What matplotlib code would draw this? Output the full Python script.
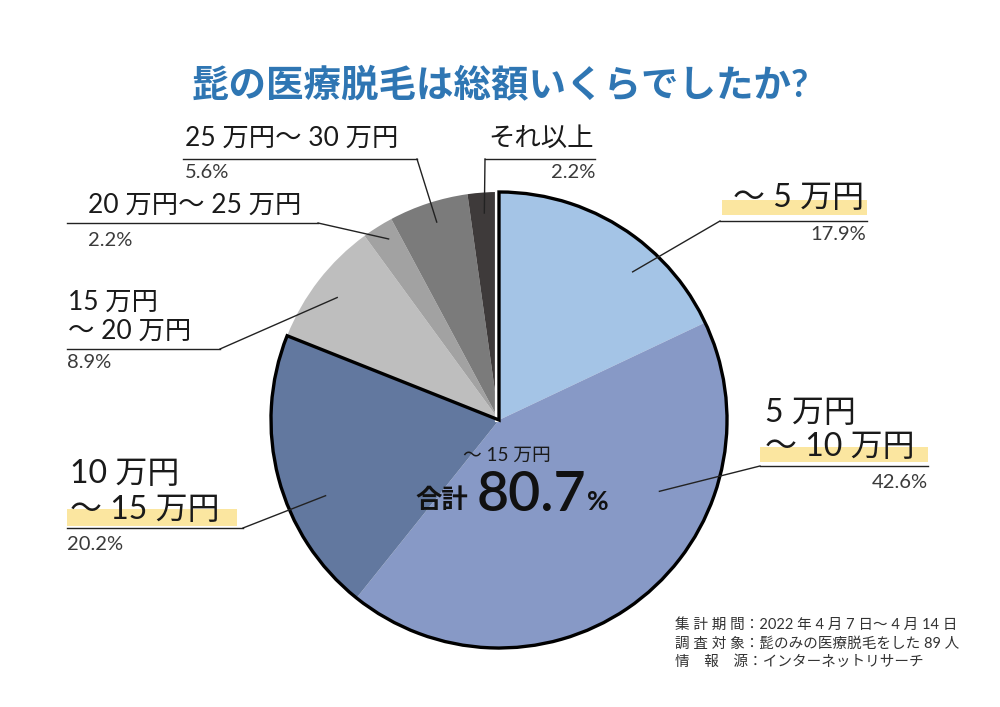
import numpy as np
import matplotlib.pyplot as plt
from matplotlib.patches import Wedge, Rectangle

plt.rcParams['font.family'] = ['Lato', 'Noto Sans CJK JP', 'DejaVu Sans']

W, H = 1000, 707

# data (share of respondents, %)
categories = ['～5万円', '5万円～10万円', '10万円～15万円', '15万円～20万円',
              '20万円～25万円', '25万円～30万円', 'それ以上']
shares = [17.9, 42.6, 20.2, 8.9, 2.2, 5.6, 2.2]
pct_labels = ['17.9%', '42.6%', '20.2%', '8.9%', '2.2%', '5.6%', '2.2%']
label_lines = [['～ 5 万円'], ['5 万円', '～ 10 万円'], ['10 万円', '～ 15 万円'],
               ['15 万円', '～ 20 万円'], ['20 万円～ 25 万円'],
               ['25 万円～ 30 万円'], ['それ以上']]
total_label = '80.7'
title = '髭の医療脱毛は総額いくらでしたか?'
notes = ['集 計 期 間：2022 年 4 月 7 日～ 4 月 14 日',
         '調 査 対 象：髭のみの医療脱毛をした 89 人',
         '情　報　源：インターネットリサーチ']

colors = ['#a4c4e6', '#8799c6', '#62789f', '#bebebe', '#a2a2a2', '#7b7b7b', '#3e3a3a']
hl_color = '#fbe6a0'

# layout (pixel coords, y from top)
cx, cy, R = 499, 420, 228
layout = [
    dict(x=864, ha='right', ys=[198], fs=23, hl=(722, 200, 145, 15),
         ul=(720, 867, 221), px=866, py=235, t=0.65, rf=0.875),
    dict(x=765, ha='left', ys=[413, 447], fs=23, hl=(760, 447, 168, 15),
         ul=(760, 928, 466), px=928, py=482, t=0.32, rf=0.77),
    dict(x=70, ha='left', ys=[474, 510], fs=23, hl=(67, 509, 170, 17),
         ul=(67, 243, 528), px=67, py=545, t=0.38, rf=0.83),
    dict(x=68, ha='left', ys=[302, 331], fs=19, hl=None,
         ul=(67, 220, 349), px=67, py=363, t=0.48, rf=0.89),
    dict(x=88, ha='left', ys=[205], fs=19, hl=None,
         ul=(67, 318, 223), px=88, py=240, t=0.6, rf=0.93),
    dict(x=185, ha='left', ys=[138], fs=19, hl=None,
         ul=(183, 417, 159), px=185, py=173, t=0.53, rf=0.91),
    dict(x=594, ha='right', ys=[138], fs=19, hl=None,
         ul=(485, 595, 159), px=595, py=173, t=0.49, rf=0.91),
]

fig = plt.figure(figsize=(W / 100, H / 100), dpi=100)
ax = fig.add_axes([0, 0, 1, 1])

wedges, _ = ax.pie(shares, colors=colors, startangle=90, counterclock=False,
                   center=(cx, H - cy), radius=R,
                   wedgeprops=dict(linewidth=0))

# thick outline around the three blue slices (up to 15万円)
ax.plot([cx - 2.5, cx - 2.5], [H - cy, H - cy + R], color='white', lw=3, zorder=3)
outline = Wedge((cx, H - cy), R, wedges[2].theta1, wedges[0].theta2,
                fill=False, ec='black', lw=2.4, zorder=4, joinstyle='miter')
ax.add_patch(outline)

for i, (w, lay) in enumerate(zip(wedges, layout)):
    # leader line: from slice interior to the end of the underline
    a0, a1 = w.theta1, w.theta2
    ang = np.deg2rad(a1 - lay['t'] * (a1 - a0))
    ix = cx + lay['rf'] * R * np.cos(ang)
    iy = H - cy + lay['rf'] * R * np.sin(ang)
    ux0, ux1, uy = lay['ul']
    ox = ux0 if (lay['x'] > 500) else ux1
    ax.plot([ux0, ux1], [H - uy, H - uy], color='#222222', lw=1.0, zorder=5)
    ax.plot([ox, ix], [H - uy, iy], color='#222222', lw=1.0, zorder=5)

    if lay['hl'] is not None:
        hx, hy, hw, hh = lay['hl']
        ax.add_patch(Rectangle((hx, H - hy - hh), hw, hh, color=hl_color, lw=0, zorder=2))
    for line, y in zip(label_lines[i], lay['ys']):
        ax.text(lay['x'], H - y, line, ha=lay['ha'], va='center',
                fontsize=lay['fs'], color='#1a1a1a', zorder=6)
    pha = 'right' if lay['px'] > 500 else 'left'
    ax.text(lay['px'], H - lay['py'], pct_labels[i], ha=pha, va='center',
            fontsize=14.5, color='#3a3a3a', zorder=6)

# centre annotation
ax.text(507, H - 455, '～ 15 万円', ha='center', va='center', fontsize=13.5,
        color='#1a1a1a', zorder=6)
ax.text(468, H - 500, '合計', ha='right', va='center', fontsize=19,
        fontweight='bold', color='#111111', zorder=6)
ax.text(477, H - 495, total_label, ha='left', va='center', fontsize=40,
        fontweight='semibold', color='#111111', zorder=6)
ax.text(587, H - 502, '%', ha='left', va='center', fontsize=19,
        fontweight='bold', color='#111111', zorder=6)

ax.text(W / 2, H - 84, title, ha='center', va='center', fontsize=27,
        fontweight='bold', color='#2f76b3')

for k, note in enumerate(notes):
    ax.text(675, H - (625 + 18.5 * k), note, ha='left', va='center',
            fontsize=10.5, color='#333333')

ax.set_xlim(0, W)
ax.set_ylim(0, H)
ax.set_aspect('equal')
ax.axis('off')

fig.savefig('out.png', dpi=100, facecolor='white')
